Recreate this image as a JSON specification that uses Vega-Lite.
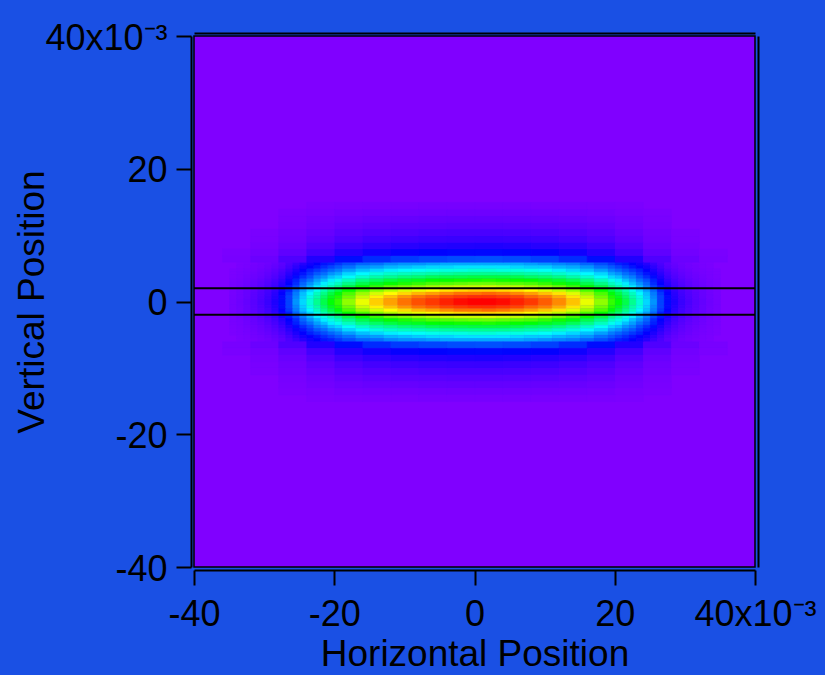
{
"$schema":"https://vega.github.io/schema/vega-lite/v6.json",
"width":561,"height":531,
"autosize":{"type":"none"},
"padding":{"left":194,"top":36,"right":70,"bottom":108},
"background":"#1a50e4",
"config":{"font":"Liberation Sans","view":{"fill":"#8000ff","stroke":"#000000","strokeWidth":1.5},
"axis":{"grid":false,"domainColor":"#000000","tickColor":"#000000","labelColor":"#000000","titleColor":"#000000","titleFontWeight":"normal","labelFont":"Liberation Sans","titleFont":"Liberation Sans"}},
"datasets":{
"center":[
{"x":-19,"y":5.5,"v":18},{"x":-17,"y":5.5,"v":20},{"x":-15,"y":5.5,"v":21},{"x":-13,"y":5.5,"v":23},{"x":-11,"y":5.5,"v":24},{"x":-9,"y":5.5,"v":24},{"x":-7,"y":5.5,"v":25},{"x":-5,"y":5.5,"v":26},{"x":-3,"y":5.5,"v":26},{"x":-1,"y":5.5,"v":26},{"x":1,"y":5.5,"v":26},{"x":3,"y":5.5,"v":26},{"x":5,"y":5.5,"v":26},{"x":7,"y":5.5,"v":25},{"x":9,"y":5.5,"v":24},{"x":11,"y":5.5,"v":23},{"x":13,"y":5.5,"v":22},{"x":15,"y":5.5,"v":20},{"x":17,"y":5.5,"v":18},
{"x":-19,"y":5,"v":21},{"x":-17,"y":5,"v":24},{"x":-15,"y":5,"v":25},{"x":-13,"y":5,"v":27},{"x":-11,"y":5,"v":28},{"x":-9,"y":5,"v":29},{"x":-7,"y":5,"v":30},{"x":-5,"y":5,"v":30},{"x":-3,"y":5,"v":31},{"x":-1,"y":5,"v":31},{"x":1,"y":5,"v":31},{"x":3,"y":5,"v":31},{"x":5,"y":5,"v":30},{"x":7,"y":5,"v":29},{"x":9,"y":5,"v":29},{"x":11,"y":5,"v":27},{"x":13,"y":5,"v":26},{"x":15,"y":5,"v":24},{"x":17,"y":5,"v":21},
{"x":-19,"y":4.5,"v":25},{"x":-17,"y":4.5,"v":28},{"x":-15,"y":4.5,"v":30},{"x":-13,"y":4.5,"v":32},{"x":-11,"y":4.5,"v":33},{"x":-9,"y":4.5,"v":34},{"x":-7,"y":4.5,"v":35},{"x":-5,"y":4.5,"v":36},{"x":-3,"y":4.5,"v":36},{"x":-1,"y":4.5,"v":37},{"x":1,"y":4.5,"v":37},{"x":3,"y":4.5,"v":36},{"x":5,"y":4.5,"v":36},{"x":7,"y":4.5,"v":35},{"x":9,"y":4.5,"v":34},{"x":11,"y":4.5,"v":32},{"x":13,"y":4.5,"v":30},{"x":15,"y":4.5,"v":28},{"x":17,"y":4.5,"v":25},
{"x":-19,"y":4,"v":30},{"x":-17,"y":4,"v":33},{"x":-15,"y":4,"v":36},{"x":-13,"y":4,"v":38},{"x":-11,"y":4,"v":39},{"x":-9,"y":4,"v":40},{"x":-7,"y":4,"v":41},{"x":-5,"y":4,"v":42},{"x":-3,"y":4,"v":43},{"x":-1,"y":4,"v":43},{"x":1,"y":4,"v":43},{"x":3,"y":4,"v":43},{"x":5,"y":4,"v":42},{"x":7,"y":4,"v":41},{"x":9,"y":4,"v":40},{"x":11,"y":4,"v":38},{"x":13,"y":4,"v":36},{"x":15,"y":4,"v":33},{"x":17,"y":4,"v":30},
{"x":-19,"y":3.5,"v":34},{"x":-17,"y":3.5,"v":38},{"x":-15,"y":3.5,"v":41},{"x":-13,"y":3.5,"v":43},{"x":-11,"y":3.5,"v":45},{"x":-9,"y":3.5,"v":46},{"x":-7,"y":3.5,"v":48},{"x":-5,"y":3.5,"v":49},{"x":-3,"y":3.5,"v":49},{"x":-1,"y":3.5,"v":50},{"x":1,"y":3.5,"v":50},{"x":3,"y":3.5,"v":50},{"x":5,"y":3.5,"v":49},{"x":7,"y":3.5,"v":47},{"x":9,"y":3.5,"v":46},{"x":11,"y":3.5,"v":44},{"x":13,"y":3.5,"v":41},{"x":15,"y":3.5,"v":38},{"x":17,"y":3.5,"v":34},
{"x":-19,"y":3,"v":39},{"x":-17,"y":3,"v":44},{"x":-15,"y":3,"v":47},{"x":-13,"y":3,"v":50},{"x":-11,"y":3,"v":52},{"x":-9,"y":3,"v":53},{"x":-7,"y":3,"v":55},{"x":-5,"y":3,"v":56},{"x":-3,"y":3,"v":57},{"x":-1,"y":3,"v":57},{"x":1,"y":3,"v":58},{"x":3,"y":3,"v":57},{"x":5,"y":3,"v":56},{"x":7,"y":3,"v":55},{"x":9,"y":3,"v":53},{"x":11,"y":3,"v":51},{"x":13,"y":3,"v":48},{"x":15,"y":3,"v":44},{"x":17,"y":3,"v":39},
{"x":-19,"y":2.5,"v":44},{"x":-17,"y":2.5,"v":49},{"x":-15,"y":2.5,"v":53},{"x":-13,"y":2.5,"v":56},{"x":-11,"y":2.5,"v":58},{"x":-9,"y":2.5,"v":60},{"x":-7,"y":2.5,"v":62},{"x":-5,"y":2.5,"v":63},{"x":-3,"y":2.5,"v":64},{"x":-1,"y":2.5,"v":65},{"x":1,"y":2.5,"v":65},{"x":3,"y":2.5,"v":64},{"x":5,"y":2.5,"v":63},{"x":7,"y":2.5,"v":62},{"x":9,"y":2.5,"v":60},{"x":11,"y":2.5,"v":57},{"x":13,"y":2.5,"v":54},{"x":15,"y":2.5,"v":49},{"x":17,"y":2.5,"v":44},
{"x":-19,"y":2,"v":50},{"x":-17,"y":2,"v":56},{"x":-15,"y":2,"v":60},{"x":-13,"y":2,"v":64},{"x":-11,"y":2,"v":66},{"x":-9,"y":2,"v":68},{"x":-7,"y":2,"v":70},{"x":-5,"y":2,"v":72},{"x":-3,"y":2,"v":73},{"x":-1,"y":2,"v":73},{"x":1,"y":2,"v":74},{"x":3,"y":2,"v":73},{"x":5,"y":2,"v":72},{"x":7,"y":2,"v":70},{"x":9,"y":2,"v":68},{"x":11,"y":2,"v":65},{"x":13,"y":2,"v":61},{"x":15,"y":2,"v":56},{"x":17,"y":2,"v":50},
{"x":-19,"y":1.5,"v":56},{"x":-17,"y":1.5,"v":62},{"x":-15,"y":1.5,"v":67},{"x":-13,"y":1.5,"v":71},{"x":-11,"y":1.5,"v":74},{"x":-9,"y":1.5,"v":76},{"x":-7,"y":1.5,"v":78},{"x":-5,"y":1.5,"v":80},{"x":-3,"y":1.5,"v":81},{"x":-1,"y":1.5,"v":82},{"x":1,"y":1.5,"v":82},{"x":3,"y":1.5,"v":81},{"x":5,"y":1.5,"v":80},{"x":7,"y":1.5,"v":78},{"x":9,"y":1.5,"v":75},{"x":11,"y":1.5,"v":72},{"x":13,"y":1.5,"v":68},{"x":15,"y":1.5,"v":62},{"x":17,"y":1.5,"v":56},
{"x":-19,"y":1,"v":62},{"x":-17,"y":1,"v":69},{"x":-15,"y":1,"v":74},{"x":-13,"y":1,"v":78},{"x":-11,"y":1,"v":81},{"x":-9,"y":1,"v":84},{"x":-7,"y":1,"v":86},{"x":-5,"y":1,"v":88},{"x":-3,"y":1,"v":90},{"x":-1,"y":1,"v":90},{"x":1,"y":1,"v":91},{"x":3,"y":1,"v":90},{"x":5,"y":1,"v":88},{"x":7,"y":1,"v":86},{"x":9,"y":1,"v":83},{"x":11,"y":1,"v":80},{"x":13,"y":1,"v":75},{"x":15,"y":1,"v":69},{"x":17,"y":1,"v":62},
{"x":-19,"y":0.5,"v":65},{"x":-17,"y":0.5,"v":73},{"x":-15,"y":0.5,"v":79},{"x":-13,"y":0.5,"v":83},{"x":-11,"y":0.5,"v":87},{"x":-9,"y":0.5,"v":90},{"x":-7,"y":0.5,"v":92},{"x":-5,"y":0.5,"v":94},{"x":-3,"y":0.5,"v":95},{"x":-1,"y":0.5,"v":96},{"x":1,"y":0.5,"v":96},{"x":3,"y":0.5,"v":95},{"x":5,"y":0.5,"v":94},{"x":7,"y":0.5,"v":91},{"x":9,"y":0.5,"v":89},{"x":11,"y":0.5,"v":85},{"x":13,"y":0.5,"v":80},{"x":15,"y":0.5,"v":73},{"x":17,"y":0.5,"v":65},
{"x":-19,"y":0,"v":68},{"x":-17,"y":0,"v":76},{"x":-15,"y":0,"v":82},{"x":-13,"y":0,"v":86},{"x":-11,"y":0,"v":90},{"x":-9,"y":0,"v":93},{"x":-7,"y":0,"v":95},{"x":-5,"y":0,"v":97},{"x":-3,"y":0,"v":99},{"x":-1,"y":0,"v":100},{"x":1,"y":0,"v":100},{"x":3,"y":0,"v":99},{"x":5,"y":0,"v":97},{"x":7,"y":0,"v":95},{"x":9,"y":0,"v":92},{"x":11,"y":0,"v":88},{"x":13,"y":0,"v":83},{"x":15,"y":0,"v":76},{"x":17,"y":0,"v":68},
{"x":-19,"y":-0.5,"v":68},{"x":-17,"y":-0.5,"v":76},{"x":-15,"y":-0.5,"v":82},{"x":-13,"y":-0.5,"v":86},{"x":-11,"y":-0.5,"v":90},{"x":-9,"y":-0.5,"v":93},{"x":-7,"y":-0.5,"v":95},{"x":-5,"y":-0.5,"v":97},{"x":-3,"y":-0.5,"v":99},{"x":-1,"y":-0.5,"v":100},{"x":1,"y":-0.5,"v":100},{"x":3,"y":-0.5,"v":99},{"x":5,"y":-0.5,"v":97},{"x":7,"y":-0.5,"v":95},{"x":9,"y":-0.5,"v":92},{"x":11,"y":-0.5,"v":88},{"x":13,"y":-0.5,"v":83},{"x":15,"y":-0.5,"v":76},{"x":17,"y":-0.5,"v":68},
{"x":-19,"y":-1,"v":65},{"x":-17,"y":-1,"v":73},{"x":-15,"y":-1,"v":79},{"x":-13,"y":-1,"v":83},{"x":-11,"y":-1,"v":87},{"x":-9,"y":-1,"v":90},{"x":-7,"y":-1,"v":92},{"x":-5,"y":-1,"v":94},{"x":-3,"y":-1,"v":95},{"x":-1,"y":-1,"v":96},{"x":1,"y":-1,"v":96},{"x":3,"y":-1,"v":95},{"x":5,"y":-1,"v":94},{"x":7,"y":-1,"v":91},{"x":9,"y":-1,"v":89},{"x":11,"y":-1,"v":85},{"x":13,"y":-1,"v":80},{"x":15,"y":-1,"v":73},{"x":17,"y":-1,"v":65},
{"x":-19,"y":-1.5,"v":62},{"x":-17,"y":-1.5,"v":69},{"x":-15,"y":-1.5,"v":74},{"x":-13,"y":-1.5,"v":78},{"x":-11,"y":-1.5,"v":81},{"x":-9,"y":-1.5,"v":84},{"x":-7,"y":-1.5,"v":86},{"x":-5,"y":-1.5,"v":88},{"x":-3,"y":-1.5,"v":90},{"x":-1,"y":-1.5,"v":90},{"x":1,"y":-1.5,"v":91},{"x":3,"y":-1.5,"v":90},{"x":5,"y":-1.5,"v":88},{"x":7,"y":-1.5,"v":86},{"x":9,"y":-1.5,"v":83},{"x":11,"y":-1.5,"v":80},{"x":13,"y":-1.5,"v":75},{"x":15,"y":-1.5,"v":69},{"x":17,"y":-1.5,"v":62},
{"x":-19,"y":-2,"v":56},{"x":-17,"y":-2,"v":62},{"x":-15,"y":-2,"v":67},{"x":-13,"y":-2,"v":71},{"x":-11,"y":-2,"v":74},{"x":-9,"y":-2,"v":76},{"x":-7,"y":-2,"v":78},{"x":-5,"y":-2,"v":80},{"x":-3,"y":-2,"v":81},{"x":-1,"y":-2,"v":82},{"x":1,"y":-2,"v":82},{"x":3,"y":-2,"v":81},{"x":5,"y":-2,"v":80},{"x":7,"y":-2,"v":78},{"x":9,"y":-2,"v":75},{"x":11,"y":-2,"v":72},{"x":13,"y":-2,"v":68},{"x":15,"y":-2,"v":62},{"x":17,"y":-2,"v":56},
{"x":-19,"y":-2.5,"v":50},{"x":-17,"y":-2.5,"v":56},{"x":-15,"y":-2.5,"v":60},{"x":-13,"y":-2.5,"v":64},{"x":-11,"y":-2.5,"v":66},{"x":-9,"y":-2.5,"v":68},{"x":-7,"y":-2.5,"v":70},{"x":-5,"y":-2.5,"v":72},{"x":-3,"y":-2.5,"v":73},{"x":-1,"y":-2.5,"v":73},{"x":1,"y":-2.5,"v":74},{"x":3,"y":-2.5,"v":73},{"x":5,"y":-2.5,"v":72},{"x":7,"y":-2.5,"v":70},{"x":9,"y":-2.5,"v":68},{"x":11,"y":-2.5,"v":65},{"x":13,"y":-2.5,"v":61},{"x":15,"y":-2.5,"v":56},{"x":17,"y":-2.5,"v":50},
{"x":-19,"y":-3,"v":44},{"x":-17,"y":-3,"v":49},{"x":-15,"y":-3,"v":53},{"x":-13,"y":-3,"v":56},{"x":-11,"y":-3,"v":58},{"x":-9,"y":-3,"v":60},{"x":-7,"y":-3,"v":62},{"x":-5,"y":-3,"v":63},{"x":-3,"y":-3,"v":64},{"x":-1,"y":-3,"v":65},{"x":1,"y":-3,"v":65},{"x":3,"y":-3,"v":64},{"x":5,"y":-3,"v":63},{"x":7,"y":-3,"v":62},{"x":9,"y":-3,"v":60},{"x":11,"y":-3,"v":57},{"x":13,"y":-3,"v":54},{"x":15,"y":-3,"v":49},{"x":17,"y":-3,"v":44},
{"x":-19,"y":-3.5,"v":39},{"x":-17,"y":-3.5,"v":44},{"x":-15,"y":-3.5,"v":47},{"x":-13,"y":-3.5,"v":50},{"x":-11,"y":-3.5,"v":52},{"x":-9,"y":-3.5,"v":53},{"x":-7,"y":-3.5,"v":55},{"x":-5,"y":-3.5,"v":56},{"x":-3,"y":-3.5,"v":57},{"x":-1,"y":-3.5,"v":57},{"x":1,"y":-3.5,"v":58},{"x":3,"y":-3.5,"v":57},{"x":5,"y":-3.5,"v":56},{"x":7,"y":-3.5,"v":55},{"x":9,"y":-3.5,"v":53},{"x":11,"y":-3.5,"v":51},{"x":13,"y":-3.5,"v":48},{"x":15,"y":-3.5,"v":44},{"x":17,"y":-3.5,"v":39},
{"x":-19,"y":-4,"v":34},{"x":-17,"y":-4,"v":38},{"x":-15,"y":-4,"v":41},{"x":-13,"y":-4,"v":43},{"x":-11,"y":-4,"v":45},{"x":-9,"y":-4,"v":46},{"x":-7,"y":-4,"v":48},{"x":-5,"y":-4,"v":49},{"x":-3,"y":-4,"v":49},{"x":-1,"y":-4,"v":50},{"x":1,"y":-4,"v":50},{"x":3,"y":-4,"v":50},{"x":5,"y":-4,"v":49},{"x":7,"y":-4,"v":47},{"x":9,"y":-4,"v":46},{"x":11,"y":-4,"v":44},{"x":13,"y":-4,"v":41},{"x":15,"y":-4,"v":38},{"x":17,"y":-4,"v":34},
{"x":-19,"y":-4.5,"v":30},{"x":-17,"y":-4.5,"v":33},{"x":-15,"y":-4.5,"v":36},{"x":-13,"y":-4.5,"v":38},{"x":-11,"y":-4.5,"v":39},{"x":-9,"y":-4.5,"v":40},{"x":-7,"y":-4.5,"v":41},{"x":-5,"y":-4.5,"v":42},{"x":-3,"y":-4.5,"v":43},{"x":-1,"y":-4.5,"v":43},{"x":1,"y":-4.5,"v":43},{"x":3,"y":-4.5,"v":43},{"x":5,"y":-4.5,"v":42},{"x":7,"y":-4.5,"v":41},{"x":9,"y":-4.5,"v":40},{"x":11,"y":-4.5,"v":38},{"x":13,"y":-4.5,"v":36},{"x":15,"y":-4.5,"v":33},{"x":17,"y":-4.5,"v":30},
{"x":-19,"y":-5,"v":25},{"x":-17,"y":-5,"v":28},{"x":-15,"y":-5,"v":30},{"x":-13,"y":-5,"v":32},{"x":-11,"y":-5,"v":33},{"x":-9,"y":-5,"v":34},{"x":-7,"y":-5,"v":35},{"x":-5,"y":-5,"v":36},{"x":-3,"y":-5,"v":36},{"x":-1,"y":-5,"v":37},{"x":1,"y":-5,"v":37},{"x":3,"y":-5,"v":36},{"x":5,"y":-5,"v":36},{"x":7,"y":-5,"v":35},{"x":9,"y":-5,"v":34},{"x":11,"y":-5,"v":32},{"x":13,"y":-5,"v":30},{"x":15,"y":-5,"v":28},{"x":17,"y":-5,"v":25},
{"x":-19,"y":-5.5,"v":21},{"x":-17,"y":-5.5,"v":24},{"x":-15,"y":-5.5,"v":25},{"x":-13,"y":-5.5,"v":27},{"x":-11,"y":-5.5,"v":28},{"x":-9,"y":-5.5,"v":29},{"x":-7,"y":-5.5,"v":30},{"x":-5,"y":-5.5,"v":30},{"x":-3,"y":-5.5,"v":31},{"x":-1,"y":-5.5,"v":31},{"x":1,"y":-5.5,"v":31},{"x":3,"y":-5.5,"v":31},{"x":5,"y":-5.5,"v":30},{"x":7,"y":-5.5,"v":29},{"x":9,"y":-5.5,"v":29},{"x":11,"y":-5.5,"v":27},{"x":13,"y":-5.5,"v":26},{"x":15,"y":-5.5,"v":24},{"x":17,"y":-5.5,"v":21},
{"x":-19,"y":-6,"v":18},{"x":-17,"y":-6,"v":20},{"x":-15,"y":-6,"v":21},{"x":-13,"y":-6,"v":23},{"x":-11,"y":-6,"v":24},{"x":-9,"y":-6,"v":24},{"x":-7,"y":-6,"v":25},{"x":-5,"y":-6,"v":26},{"x":-3,"y":-6,"v":26},{"x":-1,"y":-6,"v":26},{"x":1,"y":-6,"v":26},{"x":3,"y":-6,"v":26},{"x":5,"y":-6,"v":26},{"x":7,"y":-6,"v":25},{"x":9,"y":-6,"v":24},{"x":11,"y":-6,"v":23},{"x":13,"y":-6,"v":22},{"x":15,"y":-6,"v":20},{"x":17,"y":-6,"v":18}
],
"edge":[
{"x":-34,"y":5.5,"v":0.4},{"x":-33,"y":5.5,"v":0.6},{"x":-32,"y":5.5,"v":0.9},{"x":-31,"y":5.5,"v":1.2},{"x":-30,"y":5.5,"v":1.6},{"x":-29,"y":5.5,"v":2.2},{"x":-28,"y":5.5,"v":3.1},{"x":-27,"y":5.5,"v":4.6},{"x":-26,"y":5.5,"v":6.2},{"x":-25,"y":5.5,"v":8},{"x":-24,"y":5.5,"v":9.7},{"x":-23,"y":5.5,"v":11},{"x":-22,"y":5.5,"v":13},{"x":-21,"y":5.5,"v":14},{"x":-20,"y":5.5,"v":16},
{"x":19,"y":5.5,"v":16},{"x":20,"y":5.5,"v":14},{"x":21,"y":5.5,"v":13},{"x":22,"y":5.5,"v":11},{"x":23,"y":5.5,"v":9.7},{"x":24,"y":5.5,"v":8},{"x":25,"y":5.5,"v":6.2},{"x":26,"y":5.5,"v":4.6},{"x":27,"y":5.5,"v":3.1},{"x":28,"y":5.5,"v":2.2},{"x":29,"y":5.5,"v":1.6},{"x":30,"y":5.5,"v":1.2},{"x":31,"y":5.5,"v":0.9},{"x":32,"y":5.5,"v":0.6},{"x":33,"y":5.5,"v":0.4},
{"x":-34,"y":5,"v":0.5},{"x":-33,"y":5,"v":0.7},{"x":-32,"y":5,"v":1.1},{"x":-31,"y":5,"v":1.4},{"x":-30,"y":5,"v":1.9},{"x":-29,"y":5,"v":2.6},{"x":-28,"y":5,"v":3.7},{"x":-27,"y":5,"v":5.4},{"x":-26,"y":5,"v":7.4},{"x":-25,"y":5,"v":9.5},{"x":-24,"y":5,"v":11},{"x":-23,"y":5,"v":13},{"x":-22,"y":5,"v":15},{"x":-21,"y":5,"v":17},{"x":-20,"y":5,"v":19},
{"x":19,"y":5,"v":19},{"x":20,"y":5,"v":17},{"x":21,"y":5,"v":15},{"x":22,"y":5,"v":13},{"x":23,"y":5,"v":11},{"x":24,"y":5,"v":9.5},{"x":25,"y":5,"v":7.4},{"x":26,"y":5,"v":5.4},{"x":27,"y":5,"v":3.7},{"x":28,"y":5,"v":2.6},{"x":29,"y":5,"v":1.9},{"x":30,"y":5,"v":1.4},{"x":31,"y":5,"v":1.1},{"x":32,"y":5,"v":0.7},{"x":33,"y":5,"v":0.5},
{"x":-35,"y":4.5,"v":0.4},{"x":-34,"y":4.5,"v":0.6},{"x":-33,"y":4.5,"v":0.9},{"x":-32,"y":4.5,"v":1.2},{"x":-31,"y":4.5,"v":1.7},{"x":-30,"y":4.5,"v":2.3},{"x":-29,"y":4.5,"v":3.1},{"x":-28,"y":4.5,"v":4.4},{"x":-27,"y":4.5,"v":6.4},{"x":-26,"y":4.5,"v":8.7},{"x":-25,"y":4.5,"v":11},{"x":-24,"y":4.5,"v":14},{"x":-23,"y":4.5,"v":16},{"x":-22,"y":4.5,"v":18},{"x":-21,"y":4.5,"v":20},{"x":-20,"y":4.5,"v":22},
{"x":19,"y":4.5,"v":22},{"x":20,"y":4.5,"v":20},{"x":21,"y":4.5,"v":18},{"x":22,"y":4.5,"v":16},{"x":23,"y":4.5,"v":14},{"x":24,"y":4.5,"v":11},{"x":25,"y":4.5,"v":8.7},{"x":26,"y":4.5,"v":6.4},{"x":27,"y":4.5,"v":4.4},{"x":28,"y":4.5,"v":3.1},{"x":29,"y":4.5,"v":2.3},{"x":30,"y":4.5,"v":1.7},{"x":31,"y":4.5,"v":1.2},{"x":32,"y":4.5,"v":0.9},{"x":33,"y":4.5,"v":0.6},{"x":34,"y":4.5,"v":0.4},
{"x":-35,"y":4,"v":0.4},{"x":-34,"y":4,"v":0.7},{"x":-33,"y":4,"v":1},{"x":-32,"y":4,"v":1.5},{"x":-31,"y":4,"v":2},{"x":-30,"y":4,"v":2.7},{"x":-29,"y":4,"v":3.7},{"x":-28,"y":4,"v":5.2},{"x":-27,"y":4,"v":7.6},{"x":-26,"y":4,"v":10},{"x":-25,"y":4,"v":13},{"x":-24,"y":4,"v":16},{"x":-23,"y":4,"v":19},{"x":-22,"y":4,"v":21},{"x":-21,"y":4,"v":24},{"x":-20,"y":4,"v":26},
{"x":19,"y":4,"v":26},{"x":20,"y":4,"v":24},{"x":21,"y":4,"v":21},{"x":22,"y":4,"v":19},{"x":23,"y":4,"v":16},{"x":24,"y":4,"v":13},{"x":25,"y":4,"v":10},{"x":26,"y":4,"v":7.6},{"x":27,"y":4,"v":5.2},{"x":28,"y":4,"v":3.7},{"x":29,"y":4,"v":2.7},{"x":30,"y":4,"v":2},{"x":31,"y":4,"v":1.5},{"x":32,"y":4,"v":1},{"x":33,"y":4,"v":0.7},{"x":34,"y":4,"v":0.4},
{"x":-35,"y":3.5,"v":0.5},{"x":-34,"y":3.5,"v":0.8},{"x":-33,"y":3.5,"v":1.2},{"x":-32,"y":3.5,"v":1.7},{"x":-31,"y":3.5,"v":2.3},{"x":-30,"y":3.5,"v":3.1},{"x":-29,"y":3.5,"v":4.3},{"x":-28,"y":3.5,"v":6},{"x":-27,"y":3.5,"v":8.8},{"x":-26,"y":3.5,"v":12},{"x":-25,"y":3.5,"v":15},{"x":-24,"y":3.5,"v":18},{"x":-23,"y":3.5,"v":22},{"x":-22,"y":3.5,"v":24},{"x":-21,"y":3.5,"v":28},{"x":-20,"y":3.5,"v":30},
{"x":19,"y":3.5,"v":30},{"x":20,"y":3.5,"v":28},{"x":21,"y":3.5,"v":24},{"x":22,"y":3.5,"v":22},{"x":23,"y":3.5,"v":18},{"x":24,"y":3.5,"v":15},{"x":25,"y":3.5,"v":12},{"x":26,"y":3.5,"v":8.8},{"x":27,"y":3.5,"v":6},{"x":28,"y":3.5,"v":4.3},{"x":29,"y":3.5,"v":3.1},{"x":30,"y":3.5,"v":2.3},{"x":31,"y":3.5,"v":1.7},{"x":32,"y":3.5,"v":1.2},{"x":33,"y":3.5,"v":0.8},{"x":34,"y":3.5,"v":0.5},
{"x":-35,"y":3,"v":0.6},{"x":-34,"y":3,"v":0.9},{"x":-33,"y":3,"v":1.4},{"x":-32,"y":3,"v":2},{"x":-31,"y":3,"v":2.6},{"x":-30,"y":3,"v":3.6},{"x":-29,"y":3,"v":4.9},{"x":-28,"y":3,"v":6.9},{"x":-27,"y":3,"v":10},{"x":-26,"y":3,"v":14},{"x":-25,"y":3,"v":18},{"x":-24,"y":3,"v":21},{"x":-23,"y":3,"v":25},{"x":-22,"y":3,"v":28},{"x":-21,"y":3,"v":32},{"x":-20,"y":3,"v":35},
{"x":19,"y":3,"v":35},{"x":20,"y":3,"v":32},{"x":21,"y":3,"v":28},{"x":22,"y":3,"v":25},{"x":23,"y":3,"v":21},{"x":24,"y":3,"v":18},{"x":25,"y":3,"v":14},{"x":26,"y":3,"v":10},{"x":27,"y":3,"v":6.9},{"x":28,"y":3,"v":4.9},{"x":29,"y":3,"v":3.6},{"x":30,"y":3,"v":2.6},{"x":31,"y":3,"v":2},{"x":32,"y":3,"v":1.4},{"x":33,"y":3,"v":0.9},{"x":34,"y":3,"v":0.6},
{"x":-35,"y":2.5,"v":0.7},{"x":-34,"y":2.5,"v":1},{"x":-33,"y":2.5,"v":1.6},{"x":-32,"y":2.5,"v":2.2},{"x":-31,"y":2.5,"v":3},{"x":-30,"y":2.5,"v":4},{"x":-29,"y":2.5,"v":5.5},{"x":-28,"y":2.5,"v":7.8},{"x":-27,"y":2.5,"v":11},{"x":-26,"y":2.5,"v":15},{"x":-25,"y":2.5,"v":20},{"x":-24,"y":2.5,"v":24},{"x":-23,"y":2.5,"v":28},{"x":-22,"y":2.5,"v":32},{"x":-21,"y":2.5,"v":36},{"x":-20,"y":2.5,"v":39},
{"x":19,"y":2.5,"v":39},{"x":20,"y":2.5,"v":36},{"x":21,"y":2.5,"v":32},{"x":22,"y":2.5,"v":28},{"x":23,"y":2.5,"v":24},{"x":24,"y":2.5,"v":20},{"x":25,"y":2.5,"v":15},{"x":26,"y":2.5,"v":11},{"x":27,"y":2.5,"v":7.8},{"x":28,"y":2.5,"v":5.5},{"x":29,"y":2.5,"v":4},{"x":30,"y":2.5,"v":3},{"x":31,"y":2.5,"v":2.2},{"x":32,"y":2.5,"v":1.6},{"x":33,"y":2.5,"v":1},{"x":34,"y":2.5,"v":0.7},
{"x":-35,"y":2,"v":0.7},{"x":-34,"y":2,"v":1.2},{"x":-33,"y":2,"v":1.8},{"x":-32,"y":2,"v":2.5},{"x":-31,"y":2,"v":3.4},{"x":-30,"y":2,"v":4.6},{"x":-29,"y":2,"v":6.2},{"x":-28,"y":2,"v":8.8},{"x":-27,"y":2,"v":13},{"x":-26,"y":2,"v":17},{"x":-25,"y":2,"v":22},{"x":-24,"y":2,"v":27},{"x":-23,"y":2,"v":32},{"x":-22,"y":2,"v":36},{"x":-21,"y":2,"v":40},{"x":-20,"y":2,"v":44},
{"x":19,"y":2,"v":44},{"x":20,"y":2,"v":40},{"x":21,"y":2,"v":36},{"x":22,"y":2,"v":32},{"x":23,"y":2,"v":27},{"x":24,"y":2,"v":22},{"x":25,"y":2,"v":17},{"x":26,"y":2,"v":13},{"x":27,"y":2,"v":8.8},{"x":28,"y":2,"v":6.2},{"x":29,"y":2,"v":4.6},{"x":30,"y":2,"v":3.4},{"x":31,"y":2,"v":2.5},{"x":32,"y":2,"v":1.8},{"x":33,"y":2,"v":1.2},{"x":34,"y":2,"v":0.7},
{"x":-35,"y":1.5,"v":0.8},{"x":-34,"y":1.5,"v":1.3},{"x":-33,"y":1.5,"v":2},{"x":-32,"y":1.5,"v":2.8},{"x":-31,"y":1.5,"v":3.8},{"x":-30,"y":1.5,"v":5.1},{"x":-29,"y":1.5,"v":7},{"x":-28,"y":1.5,"v":9.8},{"x":-27,"y":1.5,"v":14},{"x":-26,"y":1.5,"v":20},{"x":-25,"y":1.5,"v":25},{"x":-24,"y":1.5,"v":30},{"x":-23,"y":1.5,"v":35},{"x":-22,"y":1.5,"v":40},{"x":-21,"y":1.5,"v":45},{"x":-20,"y":1.5,"v":50},
{"x":19,"y":1.5,"v":50},{"x":20,"y":1.5,"v":45},{"x":21,"y":1.5,"v":40},{"x":22,"y":1.5,"v":35},{"x":23,"y":1.5,"v":30},{"x":24,"y":1.5,"v":25},{"x":25,"y":1.5,"v":20},{"x":26,"y":1.5,"v":14},{"x":27,"y":1.5,"v":9.8},{"x":28,"y":1.5,"v":7},{"x":29,"y":1.5,"v":5.1},{"x":30,"y":1.5,"v":3.8},{"x":31,"y":1.5,"v":2.8},{"x":32,"y":1.5,"v":2},{"x":33,"y":1.5,"v":1.3},{"x":34,"y":1.5,"v":0.8},
{"x":-35,"y":1,"v":0.9},{"x":-34,"y":1,"v":1.4},{"x":-33,"y":1,"v":2.2},{"x":-32,"y":1,"v":3.1},{"x":-31,"y":1,"v":4.2},{"x":-30,"y":1,"v":5.6},{"x":-29,"y":1,"v":7.7},{"x":-28,"y":1,"v":11},{"x":-27,"y":1,"v":16},{"x":-26,"y":1,"v":22},{"x":-25,"y":1,"v":28},{"x":-24,"y":1,"v":33},{"x":-23,"y":1,"v":39},{"x":-22,"y":1,"v":44},{"x":-21,"y":1,"v":50},{"x":-20,"y":1,"v":55},
{"x":19,"y":1,"v":55},{"x":20,"y":1,"v":50},{"x":21,"y":1,"v":44},{"x":22,"y":1,"v":39},{"x":23,"y":1,"v":33},{"x":24,"y":1,"v":28},{"x":25,"y":1,"v":22},{"x":26,"y":1,"v":16},{"x":27,"y":1,"v":11},{"x":28,"y":1,"v":7.7},{"x":29,"y":1,"v":5.6},{"x":30,"y":1,"v":4.2},{"x":31,"y":1,"v":3.1},{"x":32,"y":1,"v":2.2},{"x":33,"y":1,"v":1.4},{"x":34,"y":1,"v":0.9},
{"x":-35,"y":0.5,"v":1},{"x":-34,"y":0.5,"v":1.5},{"x":-33,"y":0.5,"v":2.3},{"x":-32,"y":0.5,"v":3.3},{"x":-31,"y":0.5,"v":4.4},{"x":-30,"y":0.5,"v":6},{"x":-29,"y":0.5,"v":8.2},{"x":-28,"y":0.5,"v":12},{"x":-27,"y":0.5,"v":17},{"x":-26,"y":0.5,"v":23},{"x":-25,"y":0.5,"v":29},{"x":-24,"y":0.5,"v":36},{"x":-23,"y":0.5,"v":41},{"x":-22,"y":0.5,"v":47},{"x":-21,"y":0.5,"v":53},{"x":-20,"y":0.5,"v":58},
{"x":19,"y":0.5,"v":58},{"x":20,"y":0.5,"v":53},{"x":21,"y":0.5,"v":47},{"x":22,"y":0.5,"v":41},{"x":23,"y":0.5,"v":36},{"x":24,"y":0.5,"v":29},{"x":25,"y":0.5,"v":23},{"x":26,"y":0.5,"v":17},{"x":27,"y":0.5,"v":12},{"x":28,"y":0.5,"v":8.2},{"x":29,"y":0.5,"v":6},{"x":30,"y":0.5,"v":4.4},{"x":31,"y":0.5,"v":3.3},{"x":32,"y":0.5,"v":2.3},{"x":33,"y":0.5,"v":1.5},{"x":34,"y":0.5,"v":1},
{"x":-35,"y":0,"v":1},{"x":-34,"y":0,"v":1.6},{"x":-33,"y":0,"v":2.4},{"x":-32,"y":0,"v":3.4},{"x":-31,"y":0,"v":4.6},{"x":-30,"y":0,"v":6.2},{"x":-29,"y":0,"v":8.5},{"x":-28,"y":0,"v":12},{"x":-27,"y":0,"v":17},{"x":-26,"y":0,"v":24},{"x":-25,"y":0,"v":30},{"x":-24,"y":0,"v":37},{"x":-23,"y":0,"v":43},{"x":-22,"y":0,"v":49},{"x":-21,"y":0,"v":55},{"x":-20,"y":0,"v":60},
{"x":19,"y":0,"v":60},{"x":20,"y":0,"v":55},{"x":21,"y":0,"v":49},{"x":22,"y":0,"v":43},{"x":23,"y":0,"v":37},{"x":24,"y":0,"v":30},{"x":25,"y":0,"v":24},{"x":26,"y":0,"v":17},{"x":27,"y":0,"v":12},{"x":28,"y":0,"v":8.5},{"x":29,"y":0,"v":6.2},{"x":30,"y":0,"v":4.6},{"x":31,"y":0,"v":3.4},{"x":32,"y":0,"v":2.4},{"x":33,"y":0,"v":1.6},{"x":34,"y":0,"v":1},
{"x":-35,"y":-0.5,"v":1},{"x":-34,"y":-0.5,"v":1.6},{"x":-33,"y":-0.5,"v":2.4},{"x":-32,"y":-0.5,"v":3.4},{"x":-31,"y":-0.5,"v":4.6},{"x":-30,"y":-0.5,"v":6.2},{"x":-29,"y":-0.5,"v":8.5},{"x":-28,"y":-0.5,"v":12},{"x":-27,"y":-0.5,"v":17},{"x":-26,"y":-0.5,"v":24},{"x":-25,"y":-0.5,"v":30},{"x":-24,"y":-0.5,"v":37},{"x":-23,"y":-0.5,"v":43},{"x":-22,"y":-0.5,"v":49},{"x":-21,"y":-0.5,"v":55},{"x":-20,"y":-0.5,"v":60},
{"x":19,"y":-0.5,"v":60},{"x":20,"y":-0.5,"v":55},{"x":21,"y":-0.5,"v":49},{"x":22,"y":-0.5,"v":43},{"x":23,"y":-0.5,"v":37},{"x":24,"y":-0.5,"v":30},{"x":25,"y":-0.5,"v":24},{"x":26,"y":-0.5,"v":17},{"x":27,"y":-0.5,"v":12},{"x":28,"y":-0.5,"v":8.5},{"x":29,"y":-0.5,"v":6.2},{"x":30,"y":-0.5,"v":4.6},{"x":31,"y":-0.5,"v":3.4},{"x":32,"y":-0.5,"v":2.4},{"x":33,"y":-0.5,"v":1.6},{"x":34,"y":-0.5,"v":1},
{"x":-35,"y":-1,"v":1},{"x":-34,"y":-1,"v":1.5},{"x":-33,"y":-1,"v":2.3},{"x":-32,"y":-1,"v":3.3},{"x":-31,"y":-1,"v":4.4},{"x":-30,"y":-1,"v":6},{"x":-29,"y":-1,"v":8.2},{"x":-28,"y":-1,"v":12},{"x":-27,"y":-1,"v":17},{"x":-26,"y":-1,"v":23},{"x":-25,"y":-1,"v":29},{"x":-24,"y":-1,"v":36},{"x":-23,"y":-1,"v":41},{"x":-22,"y":-1,"v":47},{"x":-21,"y":-1,"v":53},{"x":-20,"y":-1,"v":58},
{"x":19,"y":-1,"v":58},{"x":20,"y":-1,"v":53},{"x":21,"y":-1,"v":47},{"x":22,"y":-1,"v":41},{"x":23,"y":-1,"v":36},{"x":24,"y":-1,"v":29},{"x":25,"y":-1,"v":23},{"x":26,"y":-1,"v":17},{"x":27,"y":-1,"v":12},{"x":28,"y":-1,"v":8.2},{"x":29,"y":-1,"v":6},{"x":30,"y":-1,"v":4.4},{"x":31,"y":-1,"v":3.3},{"x":32,"y":-1,"v":2.3},{"x":33,"y":-1,"v":1.5},{"x":34,"y":-1,"v":1},
{"x":-35,"y":-1.5,"v":0.9},{"x":-34,"y":-1.5,"v":1.4},{"x":-33,"y":-1.5,"v":2.2},{"x":-32,"y":-1.5,"v":3.1},{"x":-31,"y":-1.5,"v":4.2},{"x":-30,"y":-1.5,"v":5.6},{"x":-29,"y":-1.5,"v":7.7},{"x":-28,"y":-1.5,"v":11},{"x":-27,"y":-1.5,"v":16},{"x":-26,"y":-1.5,"v":22},{"x":-25,"y":-1.5,"v":28},{"x":-24,"y":-1.5,"v":33},{"x":-23,"y":-1.5,"v":39},{"x":-22,"y":-1.5,"v":44},{"x":-21,"y":-1.5,"v":50},{"x":-20,"y":-1.5,"v":55},
{"x":19,"y":-1.5,"v":55},{"x":20,"y":-1.5,"v":50},{"x":21,"y":-1.5,"v":44},{"x":22,"y":-1.5,"v":39},{"x":23,"y":-1.5,"v":33},{"x":24,"y":-1.5,"v":28},{"x":25,"y":-1.5,"v":22},{"x":26,"y":-1.5,"v":16},{"x":27,"y":-1.5,"v":11},{"x":28,"y":-1.5,"v":7.7},{"x":29,"y":-1.5,"v":5.6},{"x":30,"y":-1.5,"v":4.2},{"x":31,"y":-1.5,"v":3.1},{"x":32,"y":-1.5,"v":2.2},{"x":33,"y":-1.5,"v":1.4},{"x":34,"y":-1.5,"v":0.9},
{"x":-35,"y":-2,"v":0.8},{"x":-34,"y":-2,"v":1.3},{"x":-33,"y":-2,"v":2},{"x":-32,"y":-2,"v":2.8},{"x":-31,"y":-2,"v":3.8},{"x":-30,"y":-2,"v":5.1},{"x":-29,"y":-2,"v":7},{"x":-28,"y":-2,"v":9.8},{"x":-27,"y":-2,"v":14},{"x":-26,"y":-2,"v":20},{"x":-25,"y":-2,"v":25},{"x":-24,"y":-2,"v":30},{"x":-23,"y":-2,"v":35},{"x":-22,"y":-2,"v":40},{"x":-21,"y":-2,"v":45},{"x":-20,"y":-2,"v":50},
{"x":19,"y":-2,"v":50},{"x":20,"y":-2,"v":45},{"x":21,"y":-2,"v":40},{"x":22,"y":-2,"v":35},{"x":23,"y":-2,"v":30},{"x":24,"y":-2,"v":25},{"x":25,"y":-2,"v":20},{"x":26,"y":-2,"v":14},{"x":27,"y":-2,"v":9.8},{"x":28,"y":-2,"v":7},{"x":29,"y":-2,"v":5.1},{"x":30,"y":-2,"v":3.8},{"x":31,"y":-2,"v":2.8},{"x":32,"y":-2,"v":2},{"x":33,"y":-2,"v":1.3},{"x":34,"y":-2,"v":0.8},
{"x":-35,"y":-2.5,"v":0.7},{"x":-34,"y":-2.5,"v":1.2},{"x":-33,"y":-2.5,"v":1.8},{"x":-32,"y":-2.5,"v":2.5},{"x":-31,"y":-2.5,"v":3.4},{"x":-30,"y":-2.5,"v":4.6},{"x":-29,"y":-2.5,"v":6.2},{"x":-28,"y":-2.5,"v":8.8},{"x":-27,"y":-2.5,"v":13},{"x":-26,"y":-2.5,"v":17},{"x":-25,"y":-2.5,"v":22},{"x":-24,"y":-2.5,"v":27},{"x":-23,"y":-2.5,"v":32},{"x":-22,"y":-2.5,"v":36},{"x":-21,"y":-2.5,"v":40},{"x":-20,"y":-2.5,"v":44},
{"x":19,"y":-2.5,"v":44},{"x":20,"y":-2.5,"v":40},{"x":21,"y":-2.5,"v":36},{"x":22,"y":-2.5,"v":32},{"x":23,"y":-2.5,"v":27},{"x":24,"y":-2.5,"v":22},{"x":25,"y":-2.5,"v":17},{"x":26,"y":-2.5,"v":13},{"x":27,"y":-2.5,"v":8.8},{"x":28,"y":-2.5,"v":6.2},{"x":29,"y":-2.5,"v":4.6},{"x":30,"y":-2.5,"v":3.4},{"x":31,"y":-2.5,"v":2.5},{"x":32,"y":-2.5,"v":1.8},{"x":33,"y":-2.5,"v":1.2},{"x":34,"y":-2.5,"v":0.7},
{"x":-35,"y":-3,"v":0.7},{"x":-34,"y":-3,"v":1},{"x":-33,"y":-3,"v":1.6},{"x":-32,"y":-3,"v":2.2},{"x":-31,"y":-3,"v":3},{"x":-30,"y":-3,"v":4},{"x":-29,"y":-3,"v":5.5},{"x":-28,"y":-3,"v":7.8},{"x":-27,"y":-3,"v":11},{"x":-26,"y":-3,"v":15},{"x":-25,"y":-3,"v":20},{"x":-24,"y":-3,"v":24},{"x":-23,"y":-3,"v":28},{"x":-22,"y":-3,"v":32},{"x":-21,"y":-3,"v":36},{"x":-20,"y":-3,"v":39},
{"x":19,"y":-3,"v":39},{"x":20,"y":-3,"v":36},{"x":21,"y":-3,"v":32},{"x":22,"y":-3,"v":28},{"x":23,"y":-3,"v":24},{"x":24,"y":-3,"v":20},{"x":25,"y":-3,"v":15},{"x":26,"y":-3,"v":11},{"x":27,"y":-3,"v":7.8},{"x":28,"y":-3,"v":5.5},{"x":29,"y":-3,"v":4},{"x":30,"y":-3,"v":3},{"x":31,"y":-3,"v":2.2},{"x":32,"y":-3,"v":1.6},{"x":33,"y":-3,"v":1},{"x":34,"y":-3,"v":0.7},
{"x":-35,"y":-3.5,"v":0.6},{"x":-34,"y":-3.5,"v":0.9},{"x":-33,"y":-3.5,"v":1.4},{"x":-32,"y":-3.5,"v":2},{"x":-31,"y":-3.5,"v":2.6},{"x":-30,"y":-3.5,"v":3.6},{"x":-29,"y":-3.5,"v":4.9},{"x":-28,"y":-3.5,"v":6.9},{"x":-27,"y":-3.5,"v":10},{"x":-26,"y":-3.5,"v":14},{"x":-25,"y":-3.5,"v":18},{"x":-24,"y":-3.5,"v":21},{"x":-23,"y":-3.5,"v":25},{"x":-22,"y":-3.5,"v":28},{"x":-21,"y":-3.5,"v":32},{"x":-20,"y":-3.5,"v":35},
{"x":19,"y":-3.5,"v":35},{"x":20,"y":-3.5,"v":32},{"x":21,"y":-3.5,"v":28},{"x":22,"y":-3.5,"v":25},{"x":23,"y":-3.5,"v":21},{"x":24,"y":-3.5,"v":18},{"x":25,"y":-3.5,"v":14},{"x":26,"y":-3.5,"v":10},{"x":27,"y":-3.5,"v":6.9},{"x":28,"y":-3.5,"v":4.9},{"x":29,"y":-3.5,"v":3.6},{"x":30,"y":-3.5,"v":2.6},{"x":31,"y":-3.5,"v":2},{"x":32,"y":-3.5,"v":1.4},{"x":33,"y":-3.5,"v":0.9},{"x":34,"y":-3.5,"v":0.6},
{"x":-35,"y":-4,"v":0.5},{"x":-34,"y":-4,"v":0.8},{"x":-33,"y":-4,"v":1.2},{"x":-32,"y":-4,"v":1.7},{"x":-31,"y":-4,"v":2.3},{"x":-30,"y":-4,"v":3.1},{"x":-29,"y":-4,"v":4.3},{"x":-28,"y":-4,"v":6},{"x":-27,"y":-4,"v":8.8},{"x":-26,"y":-4,"v":12},{"x":-25,"y":-4,"v":15},{"x":-24,"y":-4,"v":18},{"x":-23,"y":-4,"v":22},{"x":-22,"y":-4,"v":24},{"x":-21,"y":-4,"v":28},{"x":-20,"y":-4,"v":30},
{"x":19,"y":-4,"v":30},{"x":20,"y":-4,"v":28},{"x":21,"y":-4,"v":24},{"x":22,"y":-4,"v":22},{"x":23,"y":-4,"v":18},{"x":24,"y":-4,"v":15},{"x":25,"y":-4,"v":12},{"x":26,"y":-4,"v":8.8},{"x":27,"y":-4,"v":6},{"x":28,"y":-4,"v":4.3},{"x":29,"y":-4,"v":3.1},{"x":30,"y":-4,"v":2.3},{"x":31,"y":-4,"v":1.7},{"x":32,"y":-4,"v":1.2},{"x":33,"y":-4,"v":0.8},{"x":34,"y":-4,"v":0.5},
{"x":-35,"y":-4.5,"v":0.4},{"x":-34,"y":-4.5,"v":0.7},{"x":-33,"y":-4.5,"v":1},{"x":-32,"y":-4.5,"v":1.5},{"x":-31,"y":-4.5,"v":2},{"x":-30,"y":-4.5,"v":2.7},{"x":-29,"y":-4.5,"v":3.7},{"x":-28,"y":-4.5,"v":5.2},{"x":-27,"y":-4.5,"v":7.6},{"x":-26,"y":-4.5,"v":10},{"x":-25,"y":-4.5,"v":13},{"x":-24,"y":-4.5,"v":16},{"x":-23,"y":-4.5,"v":19},{"x":-22,"y":-4.5,"v":21},{"x":-21,"y":-4.5,"v":24},{"x":-20,"y":-4.5,"v":26},
{"x":19,"y":-4.5,"v":26},{"x":20,"y":-4.5,"v":24},{"x":21,"y":-4.5,"v":21},{"x":22,"y":-4.5,"v":19},{"x":23,"y":-4.5,"v":16},{"x":24,"y":-4.5,"v":13},{"x":25,"y":-4.5,"v":10},{"x":26,"y":-4.5,"v":7.6},{"x":27,"y":-4.5,"v":5.2},{"x":28,"y":-4.5,"v":3.7},{"x":29,"y":-4.5,"v":2.7},{"x":30,"y":-4.5,"v":2},{"x":31,"y":-4.5,"v":1.5},{"x":32,"y":-4.5,"v":1},{"x":33,"y":-4.5,"v":0.7},{"x":34,"y":-4.5,"v":0.4},
{"x":-35,"y":-5,"v":0.4},{"x":-34,"y":-5,"v":0.6},{"x":-33,"y":-5,"v":0.9},{"x":-32,"y":-5,"v":1.2},{"x":-31,"y":-5,"v":1.7},{"x":-30,"y":-5,"v":2.3},{"x":-29,"y":-5,"v":3.1},{"x":-28,"y":-5,"v":4.4},{"x":-27,"y":-5,"v":6.4},{"x":-26,"y":-5,"v":8.7},{"x":-25,"y":-5,"v":11},{"x":-24,"y":-5,"v":14},{"x":-23,"y":-5,"v":16},{"x":-22,"y":-5,"v":18},{"x":-21,"y":-5,"v":20},{"x":-20,"y":-5,"v":22},
{"x":19,"y":-5,"v":22},{"x":20,"y":-5,"v":20},{"x":21,"y":-5,"v":18},{"x":22,"y":-5,"v":16},{"x":23,"y":-5,"v":14},{"x":24,"y":-5,"v":11},{"x":25,"y":-5,"v":8.7},{"x":26,"y":-5,"v":6.4},{"x":27,"y":-5,"v":4.4},{"x":28,"y":-5,"v":3.1},{"x":29,"y":-5,"v":2.3},{"x":30,"y":-5,"v":1.7},{"x":31,"y":-5,"v":1.2},{"x":32,"y":-5,"v":0.9},{"x":33,"y":-5,"v":0.6},{"x":34,"y":-5,"v":0.4},
{"x":-34,"y":-5.5,"v":0.5},{"x":-33,"y":-5.5,"v":0.7},{"x":-32,"y":-5.5,"v":1.1},{"x":-31,"y":-5.5,"v":1.4},{"x":-30,"y":-5.5,"v":1.9},{"x":-29,"y":-5.5,"v":2.6},{"x":-28,"y":-5.5,"v":3.7},{"x":-27,"y":-5.5,"v":5.4},{"x":-26,"y":-5.5,"v":7.4},{"x":-25,"y":-5.5,"v":9.5},{"x":-24,"y":-5.5,"v":11},{"x":-23,"y":-5.5,"v":13},{"x":-22,"y":-5.5,"v":15},{"x":-21,"y":-5.5,"v":17},{"x":-20,"y":-5.5,"v":19},
{"x":19,"y":-5.5,"v":19},{"x":20,"y":-5.5,"v":17},{"x":21,"y":-5.5,"v":15},{"x":22,"y":-5.5,"v":13},{"x":23,"y":-5.5,"v":11},{"x":24,"y":-5.5,"v":9.5},{"x":25,"y":-5.5,"v":7.4},{"x":26,"y":-5.5,"v":5.4},{"x":27,"y":-5.5,"v":3.7},{"x":28,"y":-5.5,"v":2.6},{"x":29,"y":-5.5,"v":1.9},{"x":30,"y":-5.5,"v":1.4},{"x":31,"y":-5.5,"v":1.1},{"x":32,"y":-5.5,"v":0.7},{"x":33,"y":-5.5,"v":0.5},
{"x":-34,"y":-6,"v":0.4},{"x":-33,"y":-6,"v":0.6},{"x":-32,"y":-6,"v":0.9},{"x":-31,"y":-6,"v":1.2},{"x":-30,"y":-6,"v":1.6},{"x":-29,"y":-6,"v":2.2},{"x":-28,"y":-6,"v":3.1},{"x":-27,"y":-6,"v":4.6},{"x":-26,"y":-6,"v":6.2},{"x":-25,"y":-6,"v":8},{"x":-24,"y":-6,"v":9.7},{"x":-23,"y":-6,"v":11},{"x":-22,"y":-6,"v":13},{"x":-21,"y":-6,"v":14},{"x":-20,"y":-6,"v":16},
{"x":19,"y":-6,"v":16},{"x":20,"y":-6,"v":14},{"x":21,"y":-6,"v":13},{"x":22,"y":-6,"v":11},{"x":23,"y":-6,"v":9.7},{"x":24,"y":-6,"v":8},{"x":25,"y":-6,"v":6.2},{"x":26,"y":-6,"v":4.6},{"x":27,"y":-6,"v":3.1},{"x":28,"y":-6,"v":2.2},{"x":29,"y":-6,"v":1.6},{"x":30,"y":-6,"v":1.2},{"x":31,"y":-6,"v":0.9},{"x":32,"y":-6,"v":0.6},{"x":33,"y":-6,"v":0.4}
],
"halo":[
{"x":-36,"y":6,"v":0.7},{"x":-32,"y":6,"v":1.8},{"x":-28,"y":6,"v":4.3},{"x":-24,"y":6,"v":8.3},{"x":-20,"y":6,"v":12.2},{"x":-16,"y":6,"v":14.8},{"x":-12,"y":6,"v":16.2},{"x":-8,"y":6,"v":17.2},{"x":-4,"y":6,"v":17.8},{"x":0,"y":6,"v":18},{"x":4,"y":6,"v":17.6},{"x":8,"y":6,"v":16.6},{"x":12,"y":6,"v":14.9},{"x":16,"y":6,"v":12.2},{"x":20,"y":6,"v":8.3},{"x":24,"y":6,"v":4.3},{"x":28,"y":6,"v":1.8},{"x":32,"y":6,"v":0.7},
{"x":-36,"y":7,"v":0.5},{"x":-32,"y":7,"v":1.2},{"x":-28,"y":7,"v":2.8},{"x":-24,"y":7,"v":5.4},{"x":-20,"y":7,"v":8},{"x":-16,"y":7,"v":9.7},{"x":-12,"y":7,"v":10.6},{"x":-8,"y":7,"v":11.3},{"x":-4,"y":7,"v":11.7},{"x":0,"y":7,"v":11.8},{"x":4,"y":7,"v":11.5},{"x":8,"y":7,"v":10.9},{"x":12,"y":7,"v":9.8},{"x":16,"y":7,"v":8},{"x":20,"y":7,"v":5.4},{"x":24,"y":7,"v":2.8},{"x":28,"y":7,"v":1.2},{"x":32,"y":7,"v":0.5},
{"x":-32,"y":8,"v":0.9},{"x":-28,"y":8,"v":2},{"x":-24,"y":8,"v":3.9},{"x":-20,"y":8,"v":5.8},{"x":-16,"y":8,"v":7},{"x":-12,"y":8,"v":7.7},{"x":-8,"y":8,"v":8.1},{"x":-4,"y":8,"v":8.4},{"x":0,"y":8,"v":8.5},{"x":4,"y":8,"v":8.3},{"x":8,"y":8,"v":7.8},{"x":12,"y":8,"v":7.1},{"x":16,"y":8,"v":5.8},{"x":20,"y":8,"v":3.9},{"x":24,"y":8,"v":2},{"x":28,"y":8,"v":0.9},
{"x":-32,"y":9,"v":0.6},{"x":-28,"y":9,"v":1.5},{"x":-24,"y":9,"v":2.9},{"x":-20,"y":9,"v":4.3},{"x":-16,"y":9,"v":5.2},{"x":-12,"y":9,"v":5.7},{"x":-8,"y":9,"v":6},{"x":-4,"y":9,"v":6.2},{"x":0,"y":9,"v":6.3},{"x":4,"y":9,"v":6.1},{"x":8,"y":9,"v":5.8},{"x":12,"y":9,"v":5.2},{"x":16,"y":9,"v":4.3},{"x":20,"y":9,"v":2.9},{"x":24,"y":9,"v":1.5},{"x":28,"y":9,"v":0.6},
{"x":-32,"y":10,"v":0.5},{"x":-28,"y":10,"v":1.2},{"x":-24,"y":10,"v":2.2},{"x":-20,"y":10,"v":3.3},{"x":-16,"y":10,"v":3.9},{"x":-12,"y":10,"v":4.3},{"x":-8,"y":10,"v":4.6},{"x":-4,"y":10,"v":4.8},{"x":0,"y":10,"v":4.8},{"x":4,"y":10,"v":4.7},{"x":8,"y":10,"v":4.4},{"x":12,"y":10,"v":4},{"x":16,"y":10,"v":3.3},{"x":20,"y":10,"v":2.2},{"x":24,"y":10,"v":1.2},{"x":28,"y":10,"v":0.5},
{"x":-28,"y":11,"v":0.8},{"x":-24,"y":11,"v":1.6},{"x":-20,"y":11,"v":2.4},{"x":-16,"y":11,"v":2.9},{"x":-12,"y":11,"v":3.2},{"x":-8,"y":11,"v":3.3},{"x":-4,"y":11,"v":3.5},{"x":0,"y":11,"v":3.5},{"x":4,"y":11,"v":3.4},{"x":8,"y":11,"v":3.2},{"x":12,"y":11,"v":2.9},{"x":16,"y":11,"v":2.4},{"x":20,"y":11,"v":1.6},{"x":24,"y":11,"v":0.8},
{"x":-28,"y":12,"v":0.6},{"x":-24,"y":12,"v":1.2},{"x":-20,"y":12,"v":1.7},{"x":-16,"y":12,"v":2.1},{"x":-12,"y":12,"v":2.3},{"x":-8,"y":12,"v":2.4},{"x":-4,"y":12,"v":2.5},{"x":0,"y":12,"v":2.5},{"x":4,"y":12,"v":2.4},{"x":8,"y":12,"v":2.3},{"x":12,"y":12,"v":2.1},{"x":16,"y":12,"v":1.7},{"x":20,"y":12,"v":1.2},{"x":24,"y":12,"v":0.6},
{"x":-28,"y":13,"v":0.4},{"x":-24,"y":13,"v":0.7},{"x":-20,"y":13,"v":1.1},{"x":-16,"y":13,"v":1.3},{"x":-12,"y":13,"v":1.4},{"x":-8,"y":13,"v":1.5},{"x":-4,"y":13,"v":1.6},{"x":0,"y":13,"v":1.6},{"x":4,"y":13,"v":1.6},{"x":8,"y":13,"v":1.5},{"x":12,"y":13,"v":1.3},{"x":16,"y":13,"v":1.1},{"x":20,"y":13,"v":0.7},{"x":24,"y":13,"v":0.4},
{"x":-24,"y":14,"v":0.4},{"x":-20,"y":14,"v":0.6},{"x":-16,"y":14,"v":0.7},{"x":-12,"y":14,"v":0.8},{"x":-8,"y":14,"v":0.9},{"x":-4,"y":14,"v":0.9},{"x":0,"y":14,"v":0.9},{"x":4,"y":14,"v":0.9},{"x":8,"y":14,"v":0.8},{"x":12,"y":14,"v":0.7},{"x":16,"y":14,"v":0.6},{"x":20,"y":14,"v":0.4},
{"x":-36,"y":-7,"v":0.7},{"x":-32,"y":-7,"v":1.8},{"x":-28,"y":-7,"v":4.3},{"x":-24,"y":-7,"v":8.3},{"x":-20,"y":-7,"v":12.2},{"x":-16,"y":-7,"v":14.8},{"x":-12,"y":-7,"v":16.2},{"x":-8,"y":-7,"v":17.2},{"x":-4,"y":-7,"v":17.8},{"x":0,"y":-7,"v":18},{"x":4,"y":-7,"v":17.6},{"x":8,"y":-7,"v":16.6},{"x":12,"y":-7,"v":14.9},{"x":16,"y":-7,"v":12.2},{"x":20,"y":-7,"v":8.3},{"x":24,"y":-7,"v":4.3},{"x":28,"y":-7,"v":1.8},{"x":32,"y":-7,"v":0.7},
{"x":-36,"y":-8,"v":0.5},{"x":-32,"y":-8,"v":1.2},{"x":-28,"y":-8,"v":2.8},{"x":-24,"y":-8,"v":5.4},{"x":-20,"y":-8,"v":8},{"x":-16,"y":-8,"v":9.7},{"x":-12,"y":-8,"v":10.6},{"x":-8,"y":-8,"v":11.3},{"x":-4,"y":-8,"v":11.7},{"x":0,"y":-8,"v":11.8},{"x":4,"y":-8,"v":11.5},{"x":8,"y":-8,"v":10.9},{"x":12,"y":-8,"v":9.8},{"x":16,"y":-8,"v":8},{"x":20,"y":-8,"v":5.4},{"x":24,"y":-8,"v":2.8},{"x":28,"y":-8,"v":1.2},{"x":32,"y":-8,"v":0.5},
{"x":-32,"y":-9,"v":0.9},{"x":-28,"y":-9,"v":2},{"x":-24,"y":-9,"v":3.9},{"x":-20,"y":-9,"v":5.8},{"x":-16,"y":-9,"v":7},{"x":-12,"y":-9,"v":7.7},{"x":-8,"y":-9,"v":8.1},{"x":-4,"y":-9,"v":8.4},{"x":0,"y":-9,"v":8.5},{"x":4,"y":-9,"v":8.3},{"x":8,"y":-9,"v":7.8},{"x":12,"y":-9,"v":7.1},{"x":16,"y":-9,"v":5.8},{"x":20,"y":-9,"v":3.9},{"x":24,"y":-9,"v":2},{"x":28,"y":-9,"v":0.9},
{"x":-32,"y":-10,"v":0.6},{"x":-28,"y":-10,"v":1.5},{"x":-24,"y":-10,"v":2.9},{"x":-20,"y":-10,"v":4.3},{"x":-16,"y":-10,"v":5.2},{"x":-12,"y":-10,"v":5.7},{"x":-8,"y":-10,"v":6},{"x":-4,"y":-10,"v":6.2},{"x":0,"y":-10,"v":6.3},{"x":4,"y":-10,"v":6.1},{"x":8,"y":-10,"v":5.8},{"x":12,"y":-10,"v":5.2},{"x":16,"y":-10,"v":4.3},{"x":20,"y":-10,"v":2.9},{"x":24,"y":-10,"v":1.5},{"x":28,"y":-10,"v":0.6},
{"x":-32,"y":-11,"v":0.5},{"x":-28,"y":-11,"v":1.2},{"x":-24,"y":-11,"v":2.2},{"x":-20,"y":-11,"v":3.3},{"x":-16,"y":-11,"v":3.9},{"x":-12,"y":-11,"v":4.3},{"x":-8,"y":-11,"v":4.6},{"x":-4,"y":-11,"v":4.8},{"x":0,"y":-11,"v":4.8},{"x":4,"y":-11,"v":4.7},{"x":8,"y":-11,"v":4.4},{"x":12,"y":-11,"v":4},{"x":16,"y":-11,"v":3.3},{"x":20,"y":-11,"v":2.2},{"x":24,"y":-11,"v":1.2},{"x":28,"y":-11,"v":0.5},
{"x":-28,"y":-12,"v":0.8},{"x":-24,"y":-12,"v":1.6},{"x":-20,"y":-12,"v":2.4},{"x":-16,"y":-12,"v":2.9},{"x":-12,"y":-12,"v":3.2},{"x":-8,"y":-12,"v":3.3},{"x":-4,"y":-12,"v":3.5},{"x":0,"y":-12,"v":3.5},{"x":4,"y":-12,"v":3.4},{"x":8,"y":-12,"v":3.2},{"x":12,"y":-12,"v":2.9},{"x":16,"y":-12,"v":2.4},{"x":20,"y":-12,"v":1.6},{"x":24,"y":-12,"v":0.8},
{"x":-28,"y":-13,"v":0.6},{"x":-24,"y":-13,"v":1.2},{"x":-20,"y":-13,"v":1.7},{"x":-16,"y":-13,"v":2.1},{"x":-12,"y":-13,"v":2.3},{"x":-8,"y":-13,"v":2.4},{"x":-4,"y":-13,"v":2.5},{"x":0,"y":-13,"v":2.5},{"x":4,"y":-13,"v":2.4},{"x":8,"y":-13,"v":2.3},{"x":12,"y":-13,"v":2.1},{"x":16,"y":-13,"v":1.7},{"x":20,"y":-13,"v":1.2},{"x":24,"y":-13,"v":0.6},
{"x":-28,"y":-14,"v":0.4},{"x":-24,"y":-14,"v":0.7},{"x":-20,"y":-14,"v":1.1},{"x":-16,"y":-14,"v":1.3},{"x":-12,"y":-14,"v":1.4},{"x":-8,"y":-14,"v":1.5},{"x":-4,"y":-14,"v":1.6},{"x":0,"y":-14,"v":1.6},{"x":4,"y":-14,"v":1.6},{"x":8,"y":-14,"v":1.5},{"x":12,"y":-14,"v":1.3},{"x":16,"y":-14,"v":1.1},{"x":20,"y":-14,"v":0.7},{"x":24,"y":-14,"v":0.4},
{"x":-24,"y":-15,"v":0.4},{"x":-20,"y":-15,"v":0.6},{"x":-16,"y":-15,"v":0.7},{"x":-12,"y":-15,"v":0.8},{"x":-8,"y":-15,"v":0.9},{"x":-4,"y":-15,"v":0.9},{"x":0,"y":-15,"v":0.9},{"x":4,"y":-15,"v":0.9},{"x":8,"y":-15,"v":0.8},{"x":12,"y":-15,"v":0.7},{"x":16,"y":-15,"v":0.6},{"x":20,"y":-15,"v":0.4}
],
"lines":[{"y":2},{"y":-2}]
},
"layer":[
{"data":{"name":"center"},"mark":{"type":"rect","strokeWidth":0.5},
"encoding":{
"x":{"field":"x","type":"quantitative","bin":{"binned":true,"step":2},"scale":{"domain":[-40,40],"nice":false,"zero":false},
"axis":{"orient":"bottom","offset":3,"values":[-40,-20,0,20,40],"labelExpr":"datum.value == 40 ? '40x10⁻³' : (datum.value < 0 ? '-' + abs(datum.value) : '' + datum.value)","labelFlush":false,"labelOverlap":false,"labelFontSize":36,"labelPadding":12,"tickSize":15,"tickWidth":2,"domainWidth":2,"title":"Horizontal Position","titleFontSize":37,"titlePadding":4}},
"y":{"field":"y","type":"quantitative","bin":{"binned":true,"step":0.5},"scale":{"domain":[-40,40],"nice":false,"zero":false},
"axis":{"orient":"left","offset":3,"values":[-40,-20,0,20,40],"labelExpr":"datum.value == 40 ? '40x10⁻³' : (datum.value < 0 ? '-' + abs(datum.value) : '' + datum.value)","labelOverlap":false,"labelFontSize":36,"labelPadding":9,"labelOffset":2,"tickSize":15,"tickWidth":2,"domainWidth":2,"title":"Vertical Position","titleFontSize":37,"titlePadding":-7}},
"fill":{"field":"v","type":"quantitative","scale":{"domain":[0,100],"range":["#8000ff","#ff0000"],"interpolate":"hsl-long"},"legend":null},
"stroke":{"field":"v","type":"quantitative","scale":{"domain":[0,100],"range":["#8000ff","#ff0000"],"interpolate":"hsl-long"},"legend":null}
}},
{"data":{"name":"edge"},"mark":{"type":"rect","strokeWidth":0.5},
"encoding":{
"x":{"field":"x","type":"quantitative","bin":{"binned":true,"step":1},"axis":null},
"y":{"field":"y","type":"quantitative","bin":{"binned":true,"step":0.5},"axis":null},
"fill":{"field":"v","type":"quantitative","legend":null},
"stroke":{"field":"v","type":"quantitative","legend":null}
}},
{"data":{"name":"halo"},"mark":{"type":"rect","strokeWidth":0.5},
"encoding":{
"x":{"field":"x","type":"quantitative","bin":{"binned":true,"step":4},"axis":{"orient":"top","offset":3,"domainWidth":2,"ticks":false,"labels":false,"title":null}},
"y":{"field":"y","type":"quantitative","bin":{"binned":true,"step":1},"axis":{"orient":"right","offset":3,"domainWidth":2,"ticks":false,"labels":false,"title":null}},
"fill":{"field":"v","type":"quantitative","legend":null},
"stroke":{"field":"v","type":"quantitative","legend":null}
}},
{"data":{"name":"lines"},"mark":{"type":"rule","color":"#000000","strokeWidth":2},
"encoding":{"y":{"field":"y","type":"quantitative","axis":null}}}
]
}
